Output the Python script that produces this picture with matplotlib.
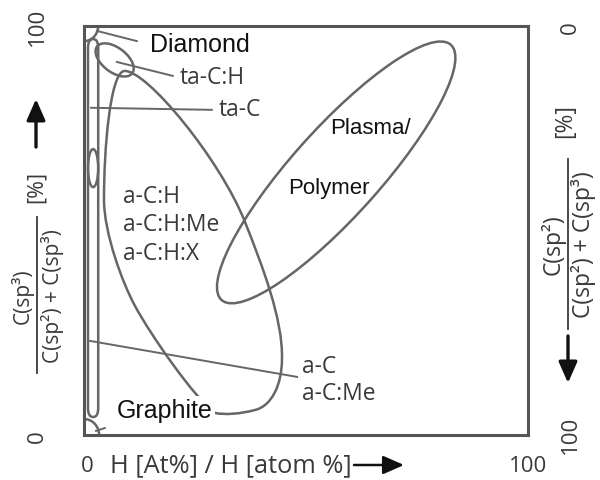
import matplotlib
matplotlib.use("Agg")
import matplotlib.pyplot as plt
from matplotlib.patches import Ellipse, FancyBboxPatch, FancyArrowPatch, PathPatch
from matplotlib.path import Path
from matplotlib.lines import Line2D

# regions of the carbon phase diagram, in axis units (H %, sp3 %)
region_names = ["Plasma/Polymer", "ta-C:H", "Diamond", "Graphite"]
region_cx = [56.8, 6.9, 0.0, 0.0]
region_cy = [64.2, 91.7, 100.0, 0.0]
region_w = [81.0, 10.3, 6.4, 6.8]
region_h = [20.5, 5.8, 7.4, 7.8]
region_angle = [50.7, -41.8, 0.0, 0.0]

# a-C:H loop outline: start point, then bezier control/end points
loop_x = [9.01, 13.96, 30.63, 36.26, 40.09, 44.82, 44.59, 44.59, 42.34, 38.51,
          35.14, 31.76, 29.50, 25.00, 14.86, 11.49, 8.78, 4.50, 4.50, 4.50,
          5.86, 9.01]
loop_y = [89.00, 89.49, 67.48, 52.08, 41.56, 28.36, 18.58, 12.47, 7.09, 6.11,
          5.13, 4.89, 5.38, 8.80, 24.69, 31.54, 36.92, 49.14, 57.70, 69.93,
          88.26, 89.00]

# ta-C strip along the left edge and the small oval inside it
strip_x = [0.9, 3.2]
strip_y = [4.4, 96.8]
oval_y = [60.6, 69.9]

# leader lines (x0, y0, x1, y1)
leader_names = ["Diamond", "ta-C:H", "ta-C", "a-C", "Graphite"]
leader_x0 = [2.9, 7.4, 1.6, 1.35, 2.7]
leader_y0 = [98.8, 91.2, 80.0, 23.0, 1.0]
leader_x1 = [11.9, 20.0, 28.8, 48.0, 4.7]
leader_y1 = [96.3, 87.8, 79.5, 14.2, 1.7]

# labels
label_text = ["ta-C:H", "ta-C", "a-C:H", "a-C:H:Me", "a-C:H:X", "a-C", "a-C:Me"]
label_x = [21.6, 30.3, 8.8, 8.8, 8.8, 49.2, 49.2]
label_y = [87.6, 79.6, 58.4, 51.5, 44.4, 16.8, 10.3]

plain_text = ["Diamond", "Plasma/", "Polymer"]
plain_x = [14.9, 55.4, 46.0]
plain_y = [95.6, 75.3, 60.6]
plain_size = [18, 16, 16]

line_col = "#666666"
text_col = "#3a3a3a"
osans = ["Open Sans", "DejaVu Sans"]
arial = ["Liberation Sans", "DejaVu Sans"]

fig = plt.figure(figsize=(6.0, 4.81), dpi=100)
ax = fig.add_axes([0.14, 0.0936, 0.74, 0.8503])
ax.set_xlim(0, 100)
ax.set_ylim(0, 100)
ax.set_xticks([])
ax.set_yticks([])
for s in ax.spines.values():
    s.set_color("#555555")
    s.set_linewidth(2.2)

# regions
for i in range(len(region_names)):
    e = Ellipse((region_cx[i], region_cy[i]), region_w[i], region_h[i],
                angle=region_angle[i], fill=False, ec=line_col, lw=1.8)
    ax.add_patch(e)

codes = [Path.MOVETO] + [Path.CURVE4] * (len(loop_x) - 1)
loop = Path(list(zip(loop_x, loop_y)), codes)
ax.add_patch(PathPatch(loop, fill=False, ec=line_col, lw=1.8))

strip = FancyBboxPatch((strip_x[0], strip_y[0]), strip_x[1] - strip_x[0],
                       strip_y[1] - strip_y[0],
                       boxstyle="round,pad=0,rounding_size=1.1",
                       mutation_aspect=2.0, fill=False, ec=line_col, lw=1.8)
ax.add_patch(strip)
ax.add_patch(Ellipse((sum(strip_x) / 2, sum(oval_y) / 2), strip_x[1] - strip_x[0],
                     oval_y[1] - oval_y[0], fill=False, ec=line_col, lw=1.8))

for i in range(len(leader_names)):
    ax.plot([leader_x0[i], leader_x1[i]], [leader_y0[i], leader_y1[i]],
            color=line_col, lw=1.4)

for t, x, y in zip(label_text, label_x, label_y):
    ax.text(x, y, t, fontsize=16.5, family=osans, color=text_col,
            ha="left", va="center")

for t, x, y, s in zip(plain_text, plain_x, plain_y, plain_size):
    ax.text(x, y, t, fontsize=s, family=arial, color="#111111",
            ha="left", va="center")

ax.text(7.4, 6.2, "Graphite", fontsize=18, family=arial, color="#111111",
        ha="left", va="center",
        bbox=dict(facecolor="white", edgecolor="none", pad=1.5), zorder=5)


# pixel (from top-left) to figure fraction
def fp(px, py):
    return px / 600.0, 1 - py / 481.0


# axis end labels
for (px, py), t in [((37, 27), "100"), ((37, 437), "0"),
                    ((570, 28), "0"), ((570, 435), "100")]:
    x, y = fp(px, py)
    fig.text(x, y, t, rotation=90, fontsize=16, family=osans, color=text_col,
             ha="center", va="center")

for (px, py), t in [((87, 466), "0"), ((528, 466), "100")]:
    x, y = fp(px, py)
    fig.text(x, y, t, fontsize=16, family=osans, color=text_col,
             ha="center", va="center")

x, y = fp(110, 466)
fig.text(x, y, "H [At%] / H [atom %]", fontsize=18.3, family=osans,
         color=text_col, ha="left", va="center")


# y axis fractions
def fraction(px_line, py_center, py_half, num, den, px_num, px_den, size):
    x0, y0 = fp(px_line, py_center - py_half)
    x1, y1 = fp(px_line, py_center + py_half)
    fig.add_artist(Line2D([x0, x1], [y0, y1], color=text_col, lw=1.3))
    x, y = fp(px_num, py_center)
    fig.text(x, y, num, rotation=90, fontsize=size, family=osans,
             color=text_col, ha="center", va="center")
    x, y = fp(px_den, py_center)
    fig.text(x, y, den, rotation=90, fontsize=size, family=osans,
             color=text_col, ha="center", va="center")


fraction(37, 296, 78, "C(sp³)", "C(sp²) + C(sp³)", 22, 53, 15)
fraction(568, 245, 85, "C(sp²)", "C(sp²) + C(sp³)", 553, 583, 16.5)

for (px, py), s in [((36, 187), 15.5), ((565, 121), 16.5)]:
    x, y = fp(px, py)
    fig.text(x, y, "[%]", rotation=90, fontsize=s, family=osans,
             color=text_col, ha="center", va="center")

# arrows
for (ax0, ay0, ax1, ay1, w) in [(36, 148, 36, 100, 2.4), (568, 337, 568, 384, 2.4),
                                (354, 466, 404, 466, 1.8)]:
    fig.add_artist(FancyArrowPatch(
        fp(ax0, ay0), fp(ax1, ay1), transform=fig.transFigure,
        arrowstyle="-|>,head_length=0.75,head_width=0.33", mutation_scale=17,
        color="#111111", lw=w, shrinkA=0, shrinkB=0))

fig.savefig("out.png", dpi=100)
